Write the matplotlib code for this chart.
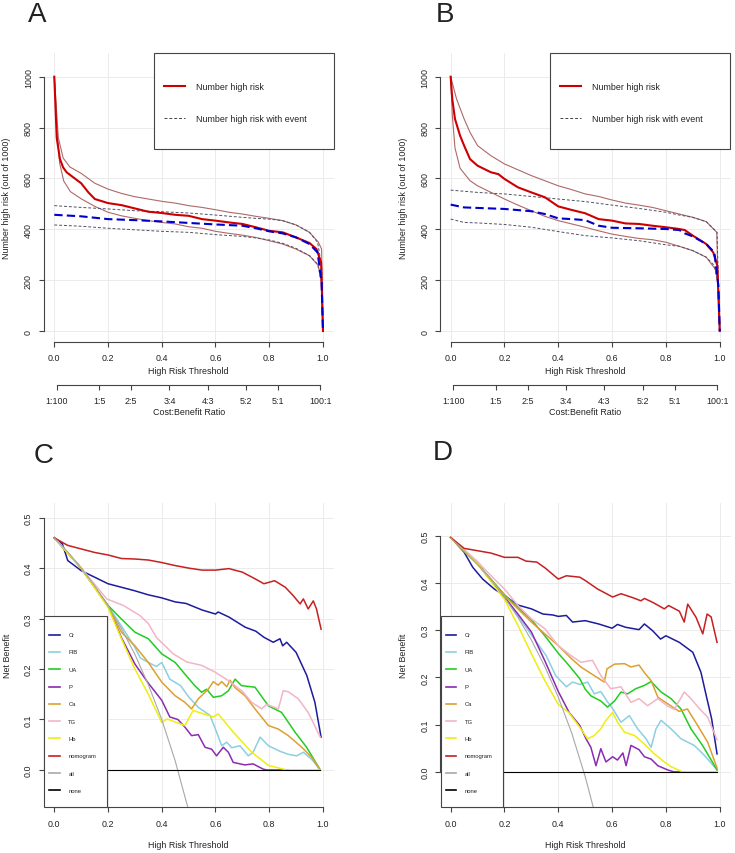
# Importa matplotlib con backend sin pantalla
import matplotlib
matplotlib.use('Agg')

import matplotlib.pyplot as plt
from matplotlib.lines import Line2D
from matplotlib.patches import Rectangle

# Tamaño de la figura en pixeles
W, H = 735, 854

# Fuente parecida a Helvetica (R)
plt.rcParams['font.family'] = ['Liberation Sans', 'DejaVu Sans']


# DATOS PANEL A (curva de impacto clínico)

a_nhr_x = [0, 0.009, 0.021, 0.033, 0.046, 0.071, 0.1, 0.127, 0.151, 0.2, 0.25, 0.3, 0.35, 0.4, 0.45,
           0.5, 0.55, 0.6, 0.65, 0.7, 0.75, 0.8, 0.85, 0.9, 0.95, 0.976, 0.993, 0.996, 1.0]
a_nhr = [1000, 760, 676, 643, 624, 604, 581, 545, 519, 503, 495, 482, 469, 464, 457,
         453, 440, 434, 427, 421, 408, 394, 388, 368, 346, 322, 270, 165, 0]
a_nhr_hi_x = [0, 0.015, 0.033, 0.058, 0.1, 0.151, 0.2, 0.25, 0.3, 0.35, 0.4, 0.45, 0.5, 0.55,
              0.6, 0.65, 0.7, 0.75, 0.8, 0.85, 0.9, 0.95, 0.983, 0.995, 1.0]
a_nhr_hi = [1000, 760, 680, 645, 620, 581, 558, 541, 528, 519, 510, 503, 493, 486,
            477, 467, 460, 451, 443, 434, 417, 388, 349, 322, 0]
a_nhr_lo_x = [0, 0.01, 0.02, 0.035, 0.06, 0.1, 0.151, 0.2, 0.25, 0.3, 0.35, 0.4, 0.45, 0.5,
              0.55, 0.6, 0.65, 0.7, 0.75, 0.8, 0.85, 0.9, 0.95, 0.983, 0.994, 1.0]
a_nhr_lo = [1000, 790, 660, 590, 548, 520, 490, 467, 453, 443, 434, 427, 421, 410,
            404, 392, 384, 377, 368, 355, 342, 322, 296, 257, 191, 0]
a_ev_x = [0, 0.1, 0.2, 0.3, 0.4, 0.5, 0.6, 0.7, 0.75, 0.8, 0.85, 0.9, 0.95, 0.98, 0.995, 1.0]
a_ev = [457, 451, 440, 436, 431, 425, 419, 414, 404, 392, 384, 368, 342, 309, 191, 0]
a_ev_hi = [493, 486, 480, 473, 469, 464, 456, 447, 443, 440, 434, 417, 388, 349, 257, 0]
a_ev_lo = [417, 412, 404, 398, 392, 388, 379, 372, 366, 358, 345, 325, 296, 263, 191, 0]


# DATOS PANEL B

b_nhr_x = [0, 0.006, 0.016, 0.035, 0.05, 0.072, 0.1, 0.15, 0.177, 0.2, 0.25, 0.3, 0.35, 0.4, 0.45,
           0.5, 0.55, 0.6, 0.65, 0.7, 0.75, 0.8, 0.85, 0.87, 0.9, 0.95, 0.976, 0.991, 1.0]
b_nhr = [1000, 912, 834, 768, 729, 676, 650, 624, 617, 598, 565, 545, 526, 490, 476,
         463, 440, 434, 423, 421, 414, 408, 401, 397, 375, 342, 309, 257, 0]
b_nhr_hi_x = [0, 0.022, 0.05, 0.072, 0.1, 0.15, 0.2, 0.25, 0.3, 0.35, 0.4, 0.45, 0.5, 0.55,
              0.6, 0.65, 0.7, 0.75, 0.8, 0.85, 0.9, 0.95, 0.989, 0.995, 1.0]
b_nhr_hi = [1000, 912, 834, 781, 729, 689, 657, 634, 611, 591, 571, 556, 539, 529,
            515, 503, 495, 486, 473, 460, 447, 430, 388, 126, 0]
b_nhr_lo_x = [0, 0.006, 0.016, 0.035, 0.072, 0.1, 0.15, 0.2, 0.25, 0.3, 0.35, 0.4, 0.45, 0.5,
              0.55, 0.6, 0.65, 0.7, 0.75, 0.8, 0.85, 0.9, 0.95, 0.983, 0.995, 1.0]
b_nhr_lo = [1000, 850, 720, 640, 591, 571, 545, 519, 495, 473, 451, 434, 421, 408,
            394, 381, 372, 364, 359, 349, 333, 316, 290, 244, 178, 0]
b_ev_x = [0, 0.05, 0.1, 0.2, 0.3, 0.35, 0.4, 0.45, 0.5, 0.55, 0.6, 0.7, 0.8, 0.85, 0.87, 0.9,
          0.95, 0.98, 0.995, 1.0]
b_ev = [497, 486, 484, 480, 471, 460, 443, 440, 436, 414, 406, 404, 401, 397, 384, 372,
        342, 309, 178, 0]
b_ev_hi_x = [0, 0.1, 0.2, 0.3, 0.4, 0.5, 0.6, 0.7, 0.8, 0.85, 0.9, 0.95, 0.99, 0.995, 1.0]
b_ev_hi = [554, 545, 539, 529, 519, 509, 495, 482, 467, 456, 447, 430, 388, 191, 0]
b_ev_lo_x = [0, 0.05, 0.1, 0.2, 0.3, 0.4, 0.5, 0.6, 0.7, 0.8, 0.85, 0.9, 0.95, 0.98, 0.995, 1.0]
b_ev_lo = [440, 427, 425, 419, 408, 391, 375, 366, 355, 339, 333, 316, 290, 257, 178, 0]

# Eje de costo:beneficio
cost_benefit = ["1:100", "1:5", "2:5", "3:4", "4:3", "5:2", "5:1", "100:1"]


# DATOS PANEL C (curvas de decisión)

c_cr_x = [0, 0.03, 0.05, 0.1, 0.15, 0.2, 0.25, 0.3, 0.35, 0.4, 0.45, 0.49, 0.55, 0.6, 0.61, 0.65,
          0.71, 0.75, 0.78, 0.815, 0.84, 0.85, 0.865, 0.9, 0.94, 0.97, 0.993]
c_cr = [0.460, 0.448, 0.415, 0.395, 0.382, 0.369, 0.362, 0.355, 0.347, 0.341, 0.333, 0.330, 0.317,
        0.309, 0.313, 0.303, 0.283, 0.275, 0.263, 0.253, 0.260, 0.246, 0.253, 0.233, 0.187, 0.134, 0.065]
c_fib_x = [0, 0.1, 0.2, 0.25, 0.3, 0.32, 0.35, 0.38, 0.4, 0.43, 0.47, 0.5, 0.536, 0.58, 0.604, 0.623,
           0.642, 0.66, 0.691, 0.722, 0.74, 0.766, 0.797, 0.84, 0.871, 0.902, 0.927, 0.958, 0.99]
c_fib = [0.460, 0.400, 0.325, 0.285, 0.243, 0.222, 0.213, 0.205, 0.213, 0.180, 0.167, 0.145, 0.124,
         0.108, 0.075, 0.048, 0.055, 0.044, 0.048, 0.028, 0.035, 0.065, 0.048, 0.037, 0.031, 0.028,
         0.035, 0.021, 0.0]
c_ua_x = [0, 0.1, 0.15, 0.2, 0.25, 0.3, 0.35, 0.4, 0.45, 0.486, 0.523, 0.548, 0.567, 0.592, 0.623,
          0.648, 0.673, 0.697, 0.747, 0.797, 0.846, 0.896, 0.939, 0.99]
c_ua = [0.460, 0.400, 0.362, 0.326, 0.299, 0.273, 0.260, 0.230, 0.213, 0.190, 0.167, 0.154, 0.160,
        0.144, 0.147, 0.157, 0.180, 0.167, 0.164, 0.127, 0.114, 0.075, 0.045, 0.0]
c_p_x = [0, 0.1, 0.2, 0.25, 0.3, 0.35, 0.4, 0.43, 0.46, 0.486, 0.511, 0.536, 0.561, 0.586, 0.604,
         0.629, 0.648, 0.666, 0.709, 0.74, 0.776, 0.79, 0.87]
c_p = [0.460, 0.400, 0.325, 0.262, 0.210, 0.172, 0.138, 0.105, 0.100, 0.085, 0.068, 0.070, 0.045,
       0.041, 0.028, 0.045, 0.035, 0.015, 0.010, 0.012, 0.002, 0.0, 0.0]
c_ca_x = [0, 0.1, 0.2, 0.25, 0.3, 0.35, 0.4, 0.45, 0.486, 0.511, 0.536, 0.573, 0.592, 0.61, 0.623,
          0.642, 0.654, 0.673, 0.71, 0.747, 0.797, 0.834, 0.871, 0.921, 0.958, 0.99]
c_ca = [0.460, 0.400, 0.325, 0.273, 0.246, 0.213, 0.174, 0.147, 0.134, 0.121, 0.141, 0.160, 0.175,
        0.168, 0.175, 0.165, 0.178, 0.163, 0.147, 0.121, 0.088, 0.081, 0.068, 0.045, 0.025, 0.0]
c_tg_x = [0, 0.1, 0.15, 0.195, 0.257, 0.319, 0.35, 0.381, 0.443, 0.493, 0.55, 0.598, 0.648, 0.7,
          0.735, 0.772, 0.79, 0.834, 0.852, 0.871, 0.908, 0.945, 0.99]
c_tg = [0.460, 0.400, 0.368, 0.339, 0.326, 0.306, 0.290, 0.262, 0.230, 0.214, 0.207, 0.194, 0.177,
        0.156, 0.134, 0.121, 0.130, 0.121, 0.157, 0.155, 0.141, 0.114, 0.065]
c_hb_x = [0, 0.1, 0.2, 0.25, 0.3, 0.35, 0.4, 0.42, 0.45, 0.486, 0.517, 0.55, 0.592, 0.61, 0.666,
          0.735, 0.797, 0.865, 0.99]
c_hb = [0.460, 0.400, 0.322, 0.26, 0.20, 0.15, 0.094, 0.101, 0.095, 0.088, 0.118, 0.112, 0.105,
        0.111, 0.075, 0.035, 0.009, 0.0, 0.0]
c_nomo_x = [0, 0.05, 0.1, 0.15, 0.2, 0.25, 0.3, 0.35, 0.4, 0.45, 0.5, 0.55, 0.6, 0.65, 0.7, 0.75,
            0.78, 0.82, 0.86, 0.89, 0.915, 0.927, 0.945, 0.964, 0.976, 0.993]
c_nomo = [0.460, 0.445, 0.438, 0.431, 0.426, 0.419, 0.418, 0.416, 0.411, 0.405, 0.400, 0.396, 0.396,
          0.399, 0.392, 0.378, 0.369, 0.375, 0.362, 0.345, 0.329, 0.339, 0.319, 0.335, 0.319, 0.279]
c_all_x = [0, 0.05, 0.1, 0.15, 0.2, 0.25, 0.3, 0.35, 0.4, 0.45, 0.5]
c_all = [0.46, 0.432, 0.40, 0.365, 0.325, 0.28, 0.229, 0.169, 0.10, 0.018, -0.08]


# DATOS PANEL D

d_cr_x = [0, 0.05, 0.082, 0.119, 0.162, 0.2, 0.25, 0.3, 0.343, 0.38, 0.4, 0.43, 0.453, 0.5, 0.55,
          0.6, 0.62, 0.65, 0.7, 0.72, 0.75, 0.78, 0.8, 0.85, 0.9, 0.93, 0.95, 0.97, 0.99]
d_cr = [0.496, 0.465, 0.433, 0.408, 0.387, 0.373, 0.353, 0.345, 0.334, 0.332, 0.329, 0.331, 0.317,
        0.320, 0.313, 0.304, 0.312, 0.306, 0.301, 0.313, 0.299, 0.281, 0.288, 0.274, 0.253, 0.211,
        0.161, 0.112, 0.038]
d_fib_x = [0, 0.1, 0.2, 0.25, 0.3, 0.32, 0.355, 0.39, 0.43, 0.453, 0.48, 0.509, 0.534, 0.558, 0.583,
           0.602, 0.633, 0.664, 0.695, 0.726, 0.745, 0.763, 0.782, 0.819, 0.856, 0.905, 0.943, 0.99]
d_fib = [0.496, 0.44, 0.37, 0.33, 0.29, 0.274, 0.246, 0.204, 0.180, 0.190, 0.185, 0.190, 0.165,
         0.170, 0.148, 0.134, 0.105, 0.119, 0.091, 0.070, 0.052, 0.091, 0.109, 0.091, 0.070, 0.056,
         0.035, 0.004]
d_ua_x = [0, 0.1, 0.2, 0.25, 0.3, 0.35, 0.4, 0.44, 0.48, 0.5, 0.521, 0.558, 0.583, 0.609, 0.633,
          0.657, 0.688, 0.72, 0.745, 0.782, 0.819, 0.856, 0.893, 0.936, 0.99]
d_ua = [0.496, 0.44, 0.375, 0.348, 0.322, 0.288, 0.251, 0.225, 0.197, 0.175, 0.161, 0.150, 0.137,
        0.150, 0.169, 0.165, 0.176, 0.183, 0.191, 0.169, 0.155, 0.133, 0.091, 0.056, 0.004]
d_p_x = [0, 0.1, 0.2, 0.25, 0.3, 0.35, 0.4, 0.44, 0.48, 0.503, 0.521, 0.54, 0.558, 0.577, 0.602,
         0.62, 0.64, 0.652, 0.67, 0.7, 0.72, 0.745, 0.77, 0.807, 0.83, 0.87]
d_p = [0.496, 0.44, 0.37, 0.334, 0.296, 0.235, 0.17, 0.126, 0.098, 0.070, 0.052, 0.013, 0.049,
       0.021, 0.032, 0.025, 0.040, 0.013, 0.056, 0.047, 0.032, 0.027, 0.013, 0.004, 0.0, 0.0]
d_ca_x = [0, 0.1, 0.2, 0.25, 0.3, 0.35, 0.4, 0.45, 0.484, 0.53, 0.571, 0.581, 0.609, 0.646, 0.67,
          0.7, 0.72, 0.745, 0.77, 0.807, 0.849, 0.88, 0.918, 0.955, 0.99]
d_ca = [0.496, 0.44, 0.373, 0.345, 0.317, 0.292, 0.267, 0.239, 0.222, 0.205, 0.190, 0.218, 0.228,
        0.229, 0.222, 0.226, 0.210, 0.193, 0.158, 0.144, 0.128, 0.133, 0.098, 0.063, 0.008]
d_tg_x = [0, 0.1, 0.15, 0.2, 0.25, 0.3, 0.35, 0.4, 0.45, 0.484, 0.527, 0.558, 0.595, 0.633, 0.67,
          0.7, 0.732, 0.77, 0.807, 0.831, 0.868, 0.893, 0.924, 0.955, 0.99]
d_tg = [0.496, 0.445, 0.415, 0.387, 0.352, 0.324, 0.303, 0.267, 0.245, 0.232, 0.236, 0.204, 0.176,
        0.180, 0.147, 0.155, 0.140, 0.155, 0.139, 0.132, 0.169, 0.155, 0.134, 0.116, 0.068]
d_hb_x = [0, 0.1, 0.2, 0.25, 0.3, 0.35, 0.4, 0.44, 0.484, 0.509, 0.534, 0.558, 0.577, 0.602, 0.62,
          0.646, 0.683, 0.72, 0.757, 0.794, 0.819, 0.861, 0.99]
d_hb = [0.496, 0.44, 0.365, 0.31, 0.25, 0.193, 0.143, 0.125, 0.091, 0.070, 0.077, 0.091, 0.109,
        0.126, 0.105, 0.084, 0.077, 0.059, 0.038, 0.021, 0.011, 0.0, 0.0]
d_nomo_x = [0, 0.05, 0.1, 0.15, 0.2, 0.25, 0.28, 0.32, 0.35, 0.4, 0.43, 0.48, 0.5, 0.546, 0.602,
            0.633, 0.68, 0.707, 0.72, 0.75, 0.794, 0.81, 0.85, 0.868, 0.881, 0.912, 0.937, 0.953,
            0.968, 0.99]
d_nomo = [0.496, 0.473, 0.468, 0.463, 0.454, 0.454, 0.446, 0.444, 0.432, 0.408, 0.415, 0.412,
          0.405, 0.387, 0.370, 0.377, 0.368, 0.362, 0.367, 0.359, 0.345, 0.352, 0.340, 0.317,
          0.355, 0.327, 0.292, 0.334, 0.328, 0.274]
d_all_x = [0, 0.05, 0.1, 0.15, 0.2, 0.25, 0.3, 0.35, 0.4, 0.45, 0.5, 0.53]
d_all = [0.495, 0.468, 0.439, 0.406, 0.369, 0.327, 0.279, 0.223, 0.158, 0.082, -0.01, -0.075]

none_x = [0, 0.99]
none_y = [0, 0]

# Nombres y colores de las curvas de decisión
dca_names = ["Cr", "FIB", "UA", "P", "Ca", "TG", "Hb", "nomogram", "all", "none"]
dca_colors = ["#1C1C9C", "#8CCFE2", "#22CC22", "#8A2BB2", "#DDA030",
              "#F2B5C6", "#EEEE10", "#C62020", "#A8A8A8", "#000000"]

# Estilos generales
AXIS_COLOR = "#444444"
GRID_COLOR = "#EBEBEB"
TEXT_COLOR = "#222222"
FS = 6.4


def fig_rect(left, right, top, bottom):
    # Convierte una caja en pixeles a fracciones de figura
    return [left / W, 1 - bottom / H, (right - left) / W, (bottom - top) / H]


def fig_text(fig, x, y, s, **kw):
    # Texto colocado en pixeles
    fig.text(x / W, 1 - y / H, s, color=TEXT_COLOR, **kw)


def style_axes(ax, ylim, yticks, ylabels, pad_x):
    # Ejes estilo R: sin caja, líneas solo entre las marcas
    ax.set_xlim(-0.04, 1.04)
    ax.set_ylim(*ylim)
    ax.set_xticks([0, 0.2, 0.4, 0.6, 0.8, 1.0])
    ax.set_xticklabels(["0.0", "0.2", "0.4", "0.6", "0.8", "1.0"])
    ax.set_yticks(yticks)
    ax.set_yticklabels(ylabels, rotation=90, va='center')
    for s in ['top', 'right']:
        ax.spines[s].set_visible(False)
    ax.spines['left'].set_bounds(yticks[0], yticks[-1])
    ax.spines['bottom'].set_bounds(0, 1)
    for s in ['left', 'bottom']:
        ax.spines[s].set_color(AXIS_COLOR)
        ax.spines[s].set_linewidth(0.8)
    ax.tick_params(direction='out', length=3.6, width=0.8, color=AXIS_COLOR,
                   labelsize=FS, labelcolor=TEXT_COLOR)
    ax.tick_params(axis='x', pad=pad_x)
    ax.tick_params(axis='y', pad=4.0)
    ax.grid(True, color=GRID_COLOR, lw=0.7)
    ax.set_axisbelow(True)


def draw_box(fig, left, right, top, bottom):
    # Caja blanca de leyenda
    fig.add_artist(Rectangle((left / W, 1 - bottom / H), (right - left) / W, (bottom - top) / H,
                             transform=fig.transFigure, facecolor='white',
                             edgecolor=AXIS_COLOR, lw=0.8, zorder=5))


def draw_key(fig, x0, x1, y, tx, label, fs, **line_kw):
    # Una entrada de leyenda: línea corta y texto
    fig.add_artist(Line2D([x0 / W, x1 / W], [1 - y / H, 1 - y / H],
                          transform=fig.transFigure, zorder=6, **line_kw))
    fig.text(tx / W, 1 - y / H, label, fontsize=fs, va='center', ha='left',
             color=TEXT_COLOR, zorder=7)


def plot_risk(fig, rect, off, nhr, hi, lo, ev, ev_hi, ev_lo):
    # Panel de número de alto riesgo
    ax = fig.add_axes(rect)
    style_axes(ax, (-42, 1092), [0, 200, 400, 600, 800, 1000],
               ["0", "200", "400", "600", "800", "1000"], pad_x=4.6)

    # Intervalos de confianza
    ax.plot(*hi, color="#B06868", lw=0.8)
    ax.plot(*lo, color="#B06868", lw=0.8)
    ax.plot(*ev_hi, color="#505068", lw=0.7, ls=(0, (3, 2)))
    ax.plot(*ev_lo, color="#505068", lw=0.7, ls=(0, (3, 2)))

    # Curvas principales
    ax.plot(*nhr, color="#CC0000", lw=1.5)
    ax.plot(*ev, color="#0000CC", lw=1.5, ls=(0, (4, 2)))

    # Segundo eje: razón costo:beneficio
    pos = []
    for r in cost_benefit:
        a, b = r.split(":")
        pos.append(float(a) / (float(a) + float(b)))
    sec = ax.secondary_xaxis(-0.149)
    sec.set_xticks(pos)
    sec.set_xticklabels(cost_benefit)
    sec.spines['bottom'].set_bounds(pos[0], pos[-1])
    sec.spines['bottom'].set_color(AXIS_COLOR)
    sec.spines['bottom'].set_linewidth(0.8)
    sec.tick_params(direction='out', length=3.6, width=0.8, color=AXIS_COLOR,
                    labelsize=FS, labelcolor=TEXT_COLOR, pad=4.2)

    # Textos de ejes
    cx = (rect[0] + rect[2] / 2) * W
    fig_text(fig, off + 7, 198.5, "Number high risk (out of 1000)", fontsize=FS,
             rotation=90, ha='center', va='center')
    fig_text(fig, cx, 372, "High Risk Threshold", fontsize=FS, ha='center', va='center')
    fig_text(fig, cx, 413, "Cost:Benefit Ratio", fontsize=FS, ha='center', va='center')

    # Leyenda
    draw_box(fig, off + 154, off + 334, 54, 150)
    draw_key(fig, off + 164, off + 185, 87, off + 196, "Number high risk", FS,
             color="#CC0000", lw=1.5)
    draw_key(fig, off + 164, off + 185, 119, off + 196, "Number high risk with event", FS,
             color="#444444", lw=0.7, ls=(0, (3, 2)))
    return ax


def plot_dca(fig, rect, off, ylim, curves):
    # Panel de curvas de decisión
    ax = fig.add_axes(rect)
    style_axes(ax, ylim, [0, 0.1, 0.2, 0.3, 0.4, 0.5],
               ["0.0", "0.1", "0.2", "0.3", "0.4", "0.5"], pad_x=5.0)

    for (xs, ys), name, col in zip(curves, dca_names, dca_colors):
        lw = 0.8 if name in ("all", "none") else 1.1
        ax.plot(xs, ys, color=col, lw=lw)

    # Textos de ejes
    cx = (rect[0] + rect[2] / 2) * W
    fig_text(fig, off + 7, 656.2, "Net Benefit", fontsize=FS, rotation=90,
             ha='center', va='center')
    fig_text(fig, cx, 845.7, "High Risk Threshold", fontsize=FS, ha='center', va='center')

    # Leyenda abajo a la izquierda
    draw_box(fig, off + 44.3, off + 106.7, 617.3, 808.3)
    for i, (name, col) in enumerate(zip(dca_names, dca_colors)):
        y = 635.7 + i * 17.29
        draw_key(fig, off + 49.3, off + 60, y, off + 68.3, name, 4.2, color=col, lw=1.2)
    return ax


if __name__ == "__main__":

    fig = plt.figure(figsize=(W / 100, H / 100), dpi=100)

    # Paneles superiores
    plot_risk(fig, fig_rect(43.55, 333.7, 54.3, 342.7), 0,
              (a_nhr_x, a_nhr), (a_nhr_hi_x, a_nhr_hi), (a_nhr_lo_x, a_nhr_lo),
              (a_ev_x, a_ev), (a_ev_x, a_ev_hi), (a_ev_x, a_ev_lo))
    plot_risk(fig, fig_rect(439.9, 730.5, 54.3, 342.7), 396.35,
              (b_nhr_x, b_nhr), (b_nhr_hi_x, b_nhr_hi), (b_nhr_lo_x, b_nhr_lo),
              (b_ev_x, b_ev), (b_ev_hi_x, b_ev_hi), (b_ev_lo_x, b_ev_lo))

    # Paneles inferiores
    c_curves = [(c_cr_x, c_cr), (c_fib_x, c_fib), (c_ua_x, c_ua), (c_p_x, c_p), (c_ca_x, c_ca),
                (c_tg_x, c_tg), (c_hb_x, c_hb), (c_nomo_x, c_nomo), (c_all_x, c_all),
                (none_x, none_y)]
    d_curves = [(d_cr_x, d_cr), (d_fib_x, d_fib), (d_ua_x, d_ua), (d_p_x, d_p), (d_ca_x, d_ca),
                (d_tg_x, d_tg), (d_hb_x, d_hb), (d_nomo_x, d_nomo), (d_all_x, d_all),
                (none_x, none_y)]
    plot_dca(fig, fig_rect(43.55, 333.7, 504, 808.3), 0, (-0.074, 0.529), c_curves)
    plot_dca(fig, fig_rect(439.9, 730.5, 504, 808.3), 396.35, (-0.075, 0.569), d_curves)

    # Letras de los paneles (línea base bajo la mayúscula)
    for lab, x, y in [("A", 37, 22), ("B", 445, 22), ("C", 44, 463), ("D", 443, 460.5)]:
        fig_text(fig, x, y, lab, fontsize=20, ha='center', va='baseline')

    fig.savefig("out.png", dpi=100)
